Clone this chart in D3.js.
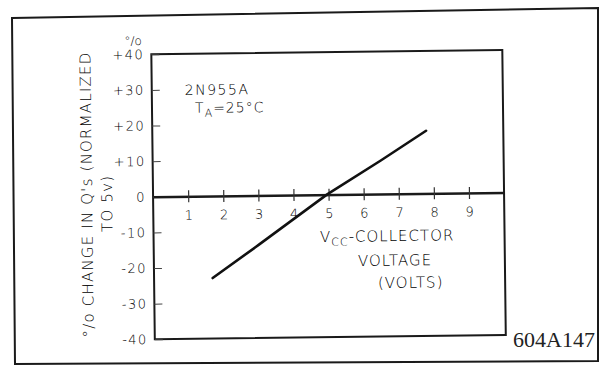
<!DOCTYPE html>
<html>
<head>
<meta charset="utf-8">
<script src="https://cdn.jsdelivr.net/npm/d3@7"></script>
<style>
  body { margin: 0; background: #fff; }
  svg { display: block; }
  text { font-family: "DejaVu Sans", sans-serif; fill: #000; font-weight: 300; }
</style>
</head>
<body>
<svg id="chart" width="599" height="367"></svg>
<script>
// values
var voltage = [1.67, 3, 4.95, 6.5, 7.8];
var pctChange = [-23, -13.8, 0, 9.4, 17.6];

var xTicks = [1, 2, 3, 4, 5, 6, 7, 8, 9];
var yTicks = [-40, -30, -20, -10, 0, 10, 20, 30, 40];
var yTickLabels = ["-40", "-30", "-20", "-10", "0", "+10", "+20", "+30", "+40"];

var svg = d3.select("#chart");

// outer border of the scanned figure (a bit skewed)
svg.append("path")
  .attr("d", "M12,18L598,8L598,361L15,364Z")
  .style("fill", "none")
  .style("stroke", "#1a1a1a")
  .style("stroke-width", 2);

// the scan is rotated slightly, so the chart body is too
var g = svg.append("g")
  .attr("transform", "rotate(-0.7,300,190)");

var xScale = d3.scaleLinear().domain([0, 10]).range([153, 504]),
    yScale = d3.scaleLinear().domain([-40, 40]).range([337.5, 52.5]);

// plot frame
g.append("rect")
  .attr("x", xScale(0))
  .attr("y", yScale(40))
  .attr("width", xScale(10) - xScale(0))
  .attr("height", yScale(-40) - yScale(40))
  .style("fill", "none")
  .style("stroke", "#1a1a1a")
  .style("stroke-width", 2);

// y axis, ticks pointing inward
var yAxis = g.append("g")
  .attr("transform", "translate(" + xScale(0) + ",0)")
  .call(d3.axisLeft(yScale)
    .tickValues(yTicks)
    .tickFormat(function (d, i) { return yTickLabels[i]; })
    .tickSizeInner(-8)
    .tickSizeOuter(0)
    .tickPadding(7));
yAxis.select(".domain").remove();
yAxis.selectAll("line").style("stroke", "#444").style("stroke-width", 1);
yAxis.selectAll("text")
  .style("font-family", "DejaVu Sans")
  .style("font-size", "13px")
  .style("letter-spacing", "1.5px")
  .style("fill", "#000");

// x axis drawn along the zero line, ticks crossing it
var xAxis = g.append("g")
  .attr("transform", "translate(0," + yScale(0) + ")")
  .call(d3.axisBottom(xScale)
    .tickValues(xTicks)
    .tickSizeInner(6)
    .tickSizeOuter(0)
    .tickPadding(8));
xAxis.select(".domain").style("stroke", "#1a1a1a").style("stroke-width", 2.5);
xAxis.selectAll("line").attr("y1", -6).style("stroke", "#333").style("stroke-width", 1.2);
xAxis.selectAll("text")
  .style("font-family", "DejaVu Sans")
  .style("font-size", "13px")
  .style("fill", "#000");

// the curve
var line = d3.line()
  .x(function (d) { return xScale(d[0]); })
  .y(function (d) { return yScale(d[1]); });

var points = voltage.map(function (v, i) { return [v, pctChange[i]]; });

g.append("path")
  .datum(points)
  .attr("d", line)
  .style("fill", "none")
  .style("stroke", "#111")
  .style("stroke-width", 2.6)
  .style("stroke-linecap", "round");

// annotation
g.append("text")
  .attr("x", 186)
  .attr("y", 93.6)
  .style("font-size", "14px")
  .style("letter-spacing", "1.5px")
  .text("2N955A");

var ta = g.append("text")
  .attr("x", 196)
  .attr("y", 111.6)
  .style("font-size", "14px")
  .style("letter-spacing", "1px");
ta.append("tspan").text("T");
ta.append("tspan").attr("dy", 4).style("font-size", "11px").text("A");
ta.append("tspan").attr("dy", -4).text("=25°C");

// y title
g.append("text")
  .attr("x", 135)
  .attr("y", 43)
  .attr("text-anchor", "middle")
  .style("font-size", "12px")
  .text("°/o");

g.append("text")
  .attr("transform", "translate(92,192)rotate(-90)")
  .attr("text-anchor", "middle")
  .style("font-size", "15px")
  .style("letter-spacing", "1.2px")
  .text("°/o CHANGE IN Q's (NORMALIZED");

g.append("text")
  .attr("transform", "translate(112,201)rotate(-90)")
  .attr("text-anchor", "middle")
  .style("font-size", "15px")
  .style("letter-spacing", "1.2px")
  .text("TO 5v)");

// x title
var xt = g.append("text")
  .attr("x", 319.4)
  .attr("y", 242.2)
  .style("font-size", "15px")
  .style("letter-spacing", "1px");
xt.append("tspan").text("V");
xt.append("tspan").attr("dy", 4).style("font-size", "11px").text("CC");
xt.append("tspan").attr("dy", -4).text("-COLLECTOR");

g.append("text")
  .attr("x", 357)
  .attr("y", 266.7)
  .style("font-size", "15px")
  .style("letter-spacing", "1px")
  .text("VOLTAGE");

g.append("text")
  .attr("x", 376.8)
  .attr("y", 289)
  .style("font-size", "15px")
  .style("letter-spacing", "1px")
  .text("(VOLTS)");

// figure number
svg.append("text")
  .attr("x", 513)
  .attr("y", 347)
  .style("font-family", "Liberation Serif")
  .style("font-size", "22px")
  .style("font-weight", "normal")
  .style("fill", "#222")
  .text("604A147");
</script>
</body>
</html>
